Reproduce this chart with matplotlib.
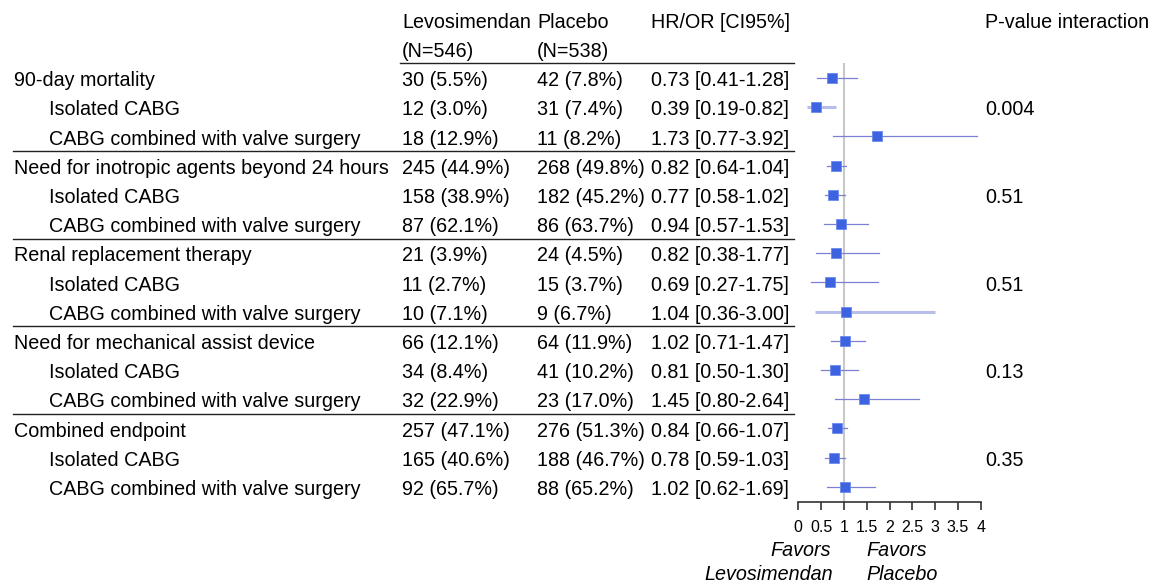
import numpy as np
import matplotlib
matplotlib.use("Agg")
import matplotlib.pyplot as plt
import matplotlib.transforms as mtransforms

plt.rcParams['font.family'] = ['Liberation Sans', 'DejaVu Sans']

# table rows
labels = ["90-day mortality", "Isolated CABG", "CABG combined with valve surgery",
          "Need for inotropic agents beyond 24 hours", "Isolated CABG", "CABG combined with valve surgery",
          "Renal replacement therapy", "Isolated CABG", "CABG combined with valve surgery",
          "Need for mechanical assist device", "Isolated CABG", "CABG combined with valve surgery",
          "Combined endpoint", "Isolated CABG", "CABG combined with valve surgery"]
is_sub = [False, True, True] * 5
levo = ["30 (5.5%)", "12 (3.0%)", "18 (12.9%)",
        "245 (44.9%)", "158 (38.9%)", "87 (62.1%)",
        "21 (3.9%)", "11 (2.7%)", "10 (7.1%)",
        "66 (12.1%)", "34 (8.4%)", "32 (22.9%)",
        "257 (47.1%)", "165 (40.6%)", "92 (65.7%)"]
placebo = ["42 (7.8%)", "31 (7.4%)", "11 (8.2%)",
           "268 (49.8%)", "182 (45.2%)", "86 (63.7%)",
           "24 (4.5%)", "15 (3.7%)", "9 (6.7%)",
           "64 (11.9%)", "41 (10.2%)", "23 (17.0%)",
           "276 (51.3%)", "188 (46.7%)", "88 (65.2%)"]
hr = [0.73, 0.39, 1.73, 0.82, 0.77, 0.94, 0.82, 0.69, 1.04, 1.02, 0.81, 1.45, 0.84, 0.78, 1.02]
lo = [0.41, 0.19, 0.77, 0.64, 0.58, 0.57, 0.38, 0.27, 0.36, 0.71, 0.50, 0.80, 0.66, 0.59, 0.62]
hi = [1.28, 0.82, 3.92, 1.04, 1.02, 1.53, 1.77, 1.75, 3.00, 1.47, 1.30, 2.64, 1.07, 1.03, 1.69]
p_interaction = {1: "0.004", 4: "0.51", 7: "0.51", 10: "0.13", 13: "0.35"}
xticks = [0, 0.5, 1, 1.5, 2, 2.5, 3, 3.5, 4]

W, H = 1155, 583
fig = plt.figure(figsize=(W / 100, H / 100), dpi=100)

# forest axes placed in pixel terms
x0, x4 = 798.3, 980.7
ybot, ytop = 501.7, 63
ax = fig.add_axes([x0 / W, (H - ybot) / H, (x4 - x0) / W, (ybot - ytop) / H])
row0, step = 78, 29.2
ax.set_xlim(0, 4)
ax.set_ylim((ybot - row0) / step, (ytop - row0) / step)

ax.axvline(1, color='#c8c8c8', lw=1.5, zorder=0)
rows = np.arange(len(hr))
for i in rows:
    if i in (1, 8):
        ax.plot([lo[i], hi[i]], [i, i], color='#b9bdea', lw=2.2, solid_capstyle='butt', clip_on=False)
    else:
        ax.plot([lo[i], hi[i]], [i, i], color='#7c80d2', lw=0.9, clip_on=False)
ax.plot(hr, rows, 's', color='#3d63e0', ms=6.5, mec='#6b8af0', mew=0.6, clip_on=False, zorder=3)

for s in ['top', 'right', 'left']:
    ax.spines[s].set_visible(False)
ax.spines['bottom'].set_color('#333333')
ax.spines['bottom'].set_linewidth(1.2)
ax.set_yticks([])
ax.set_xticks(xticks)
ax.set_xticklabels([f"{t:g}" for t in xticks], fontsize=11.5)
ax.tick_params(axis='x', direction='out', length=5.5, width=1.2, color='#333333', pad=8)

# text table: x in figure fraction, y in row units
tr = mtransforms.blended_transform_factory(fig.transFigure, ax.transData)
fs = 14.2
dy = 0.09  # nudge text down a little to sit on the marker rows
def px(x):
    return x / W

fig.text(px(402), -2 + dy, "Levosimendan", transform=tr, fontsize=fs, va='center')
fig.text(px(402), -1 + dy, "(N=546)", transform=tr, fontsize=fs, va='center')
fig.text(px(537), -2 + dy, "Placebo", transform=tr, fontsize=fs, va='center')
fig.text(px(537), -1 + dy, "(N=538)", transform=tr, fontsize=fs, va='center')
fig.text(px(651), -2 + dy, "HR/OR [CI95%]", transform=tr, fontsize=fs, va='center')
fig.text(px(985), -2 + dy, "P-value interaction", transform=tr, fontsize=fs, va='center')

for i in rows:
    y = i + dy
    fig.text(px(49 if is_sub[i] else 14), y, labels[i], transform=tr, fontsize=fs, va='center')
    fig.text(px(402), y, levo[i], transform=tr, fontsize=fs, va='center')
    fig.text(px(537), y, placebo[i], transform=tr, fontsize=fs, va='center')
    fig.text(px(651), y, f"{hr[i]:.2f} [{lo[i]:.2f}-{hi[i]:.2f}]", transform=tr, fontsize=fs, va='center')
    if i in p_interaction:
        fig.text(px(985), y, p_interaction[i], transform=tr, fontsize=fs, va='center')

# separator lines
fig.add_artist(plt.Line2D([px(400), px(794)], [-0.5, -0.5], transform=tr, color='#222222', lw=1.0))
for yb in [2.5, 5.5, 8.5, 11.5]:
    fig.add_artist(plt.Line2D([px(13), px(794)], [yb, yb], transform=tr, color='#222222', lw=1.0))

fig.text(px(831), 1 - 550 / H, "Favors", fontsize=fs, style='italic', ha='right', va='center')
fig.text(px(833), 1 - 575 / H, "Levosimendan", fontsize=fs, style='italic', ha='right', va='center')
fig.text(px(866), 1 - 550 / H, "Favors", fontsize=fs, style='italic', ha='left', va='center')
fig.text(px(866), 1 - 575 / H, "Placebo", fontsize=fs, style='italic', ha='left', va='center')

fig.savefig("out.png", dpi=100)
